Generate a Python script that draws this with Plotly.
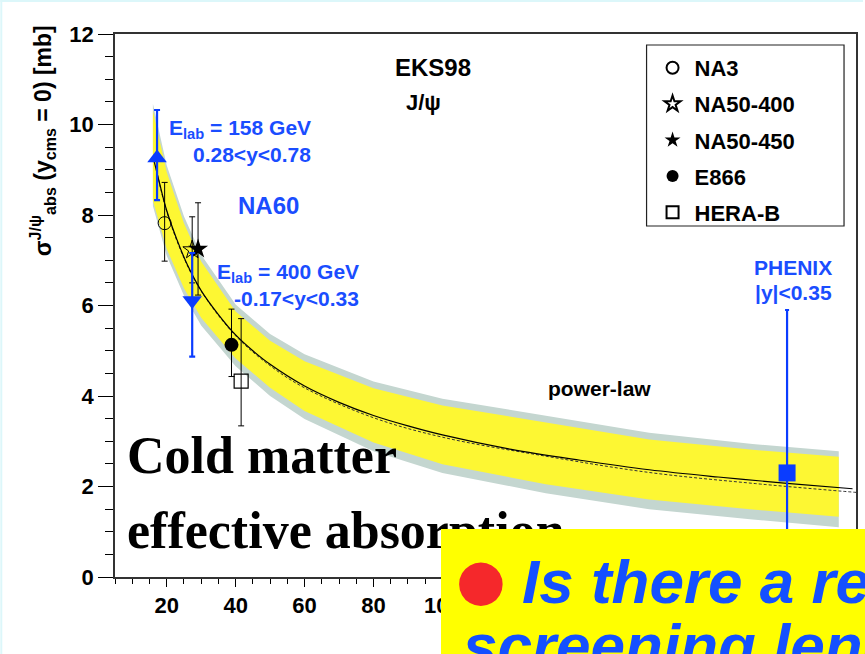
import plotly.graph_objects as go

# ---------------- data ----------------
# NA60 (p-A at SPS), sqrt(s) in GeV
na60_x = [17.2, 27.4]
na60_y = [9.26, 6.11]
na60_err_hi = [1.06, 1.05]
na60_err_lo = [0.93, 1.24]
na60_symbols = ["triangle-up", "triangle-down"]

na3_x = [19.4]
na3_y = [7.82]
na3_err_hi = [0.90]
na3_err_lo = [0.84]

na50_400_x = [27.4]
na50_400_y = [7.23]
na50_400_err = [0.73]

na50_450_x = [29.1]
na50_450_y = [7.25]
na50_450_err = [1.02]

e866_x = [38.8]
e866_y = [5.13]
e866_err_hi = [0.79]
e866_err_lo = [0.70]

herab_x = [41.6]
herab_y = [4.33]
herab_err_hi = [1.38]
herab_err_lo = [0.99]

phenix_x = [200.0]
phenix_y = [2.30]
phenix_err = [3.60]

# EKS98 power-law fit and its uncertainty bands
fit_x = [16, 18, 20, 23, 26, 30, 35, 40, 45, 50, 60, 70, 80, 90, 100, 120, 140, 160, 180, 200, 219]
fit_y = [9.30, 8.68, 8.10, 7.45, 6.90, 6.33, 5.80, 5.35, 5.00, 4.70, 4.22, 3.86, 3.57, 3.34, 3.14,
         2.82, 2.58, 2.37, 2.21, 2.07, 1.95]

alt_x = [17, 20, 25, 30, 40, 50, 60, 80, 100, 130, 160, 190, 220]
alt_y = [9.00, 8.08, 7.05, 6.32, 5.33, 4.67, 4.18, 3.52, 3.09, 2.67, 2.31, 2.07, 1.87]

band_x = [16, 20, 25, 30, 40, 50, 60, 80, 100, 130, 160, 190, 215]
yellow_hi = [10.30, 8.95, 7.82, 6.97, 5.87, 5.22, 4.77, 4.17, 3.79, 3.41, 3.04, 2.81, 2.66]
yellow_lo = [8.32, 7.25, 6.38, 5.73, 4.83, 4.18, 3.67, 2.97, 2.49, 2.05, 1.71, 1.49, 1.33]
grey_hi = [10.46, 9.10, 7.97, 7.12, 6.02, 5.37, 4.92, 4.32, 3.94, 3.56, 3.19, 2.94, 2.78]
grey_lo = [8.20, 7.10, 6.22, 5.56, 4.66, 4.00, 3.49, 2.78, 2.30, 1.85, 1.50, 1.27, 1.10]

x_range = [5, 220]
y_range = [0, 12]

# ---------------- page geometry ----------------
W, H = 865, 654
L, R, T, B = 115, 7, 34, 77
PW, PH = W - L - R, H - T - B


def px(xp):
    return (xp - L) / PW


def py(yp):
    return (H - B - yp) / PH


SANS = "Liberation Sans, Arial, sans-serif"
SERIF = "Liberation Serif, Times New Roman, serif"
BLUE = "#1a4dff"
MARK_BLUE = "#0a3cff"

fig = go.Figure()

# uncertainty bands
fig.add_trace(go.Scatter(
    x=band_x + band_x[::-1], y=grey_hi + grey_lo[::-1], fill="toself",
    fillcolor="#c4d6d0", line=dict(width=0), mode="lines", showlegend=False, hoverinfo="skip"))
fig.add_trace(go.Scatter(
    x=band_x + band_x[::-1], y=yellow_hi + yellow_lo[::-1], fill="toself",
    fillcolor="#fdf733", line=dict(width=0), mode="lines", showlegend=False, hoverinfo="skip"))

# fit curves
fig.add_trace(go.Scatter(x=alt_x, y=alt_y, mode="lines", line=dict(color="#333", width=1, dash="3px,2px"),
                         showlegend=False, line_shape="spline"))
fig.add_trace(go.Scatter(x=fit_x, y=fit_y, mode="lines", line=dict(color="black", width=1.2),
                         showlegend=False, line_shape="spline"))


def err(hi, lo=None, color="black", thick=1, width=3):
    d = dict(type="data", array=hi, color=color, thickness=thick, width=width, visible=True)
    if lo is not None:
        d.update(symmetric=False, arrayminus=lo)
    return d


fig.add_trace(go.Scatter(
    x=na3_x, y=na3_y, mode="markers", name="NA3", legendgroup="a",
    marker=dict(symbol="circle-open", size=13, color="black", line=dict(width=1)),
    error_y=err(na3_err_hi, na3_err_lo)))
fig.add_trace(go.Scatter(
    x=na50_400_x, y=na50_400_y, mode="markers", name="NA50-400", legendgroup="b",
    marker=dict(symbol="star-open", size=14, color="black", line=dict(width=1)),
    error_y=err(na50_400_err)))
fig.add_trace(go.Scatter(
    x=na50_450_x, y=na50_450_y, mode="markers", name="NA50-450", legendgroup="c",
    marker=dict(symbol="star", size=15, color="black"),
    error_y=err(na50_450_err)))
fig.add_trace(go.Scatter(
    x=e866_x, y=e866_y, mode="markers", name="E866", legendgroup="d",
    marker=dict(symbol="circle", size=14, color="black"),
    error_y=err(e866_err_hi, e866_err_lo)))
fig.add_trace(go.Scatter(
    x=herab_x, y=herab_y, mode="markers", name="HERA-B", legendgroup="e",
    marker=dict(symbol="square-open", size=14, color="black", line=dict(width=1.2)),
    error_y=err(herab_err_hi, herab_err_lo)))

fig.add_trace(go.Scatter(
    x=na60_x, y=na60_y, mode="markers", showlegend=False,
    marker=dict(symbol=na60_symbols, size=17, color=MARK_BLUE),
    error_y=err(na60_err_hi, na60_err_lo, color=MARK_BLUE, thick=2.2, width=3)))
fig.add_trace(go.Scatter(
    x=phenix_x, y=phenix_y, mode="markers", showlegend=False,
    marker=dict(symbol="square", size=17, color=MARK_BLUE),
    error_y=err(phenix_err, color=MARK_BLUE, thick=2.2, width=2)))

axis_common = dict(showline=True, linecolor="#333", linewidth=1.8, mirror=True, showgrid=False,
                   zeroline=False, ticks="outside", tickcolor="black", tickwidth=1.2,
                   tickfont=dict(family=SANS, size=22, color="black", weight="bold"))

fig.update_xaxes(range=x_range, dtick=20, tick0=0, ticklen=8,
                 minor=dict(dtick=5, tick0=0, ticklen=5, ticks="outside", tickcolor="black", tickwidth=1.2),
                 **axis_common)
fig.update_yaxes(range=y_range, dtick=2, tick0=0, ticklen=15,
                 minor=dict(dtick=0.5, tick0=0, ticklen=8, ticks="outside", tickcolor="black", tickwidth=1.2),
                 **axis_common)

ann = []


def text(x, y, s, size, color="black", xa="left", ya="middle", family=SANS, bold=True, italic=False, angle=0):
    ann.append(dict(x=px(x), y=py(y), xref="paper", yref="paper", text=s, showarrow=False,
                    xanchor=xa, yanchor=ya, textangle=angle,
                    font=dict(family=family, size=size, color=color,
                              weight="bold" if bold else "normal",
                              style="italic" if italic else "normal")))


text(42, 141, "σ<sup>J/ψ</sup><sub>abs</sub> (y<sub>cms</sub> = 0) [mb]", 23, xa="center", angle=-90)
text(434, 68, "EKS98", 24, xa="center")
text(424, 102, "J/ψ", 22, xa="center")
text(314, 129, "E<sub>lab</sub> = 158 GeV", 21, color=BLUE, xa="right")
text(314, 154, "0.28&lt;y&lt;0.78", 21, color=BLUE, xa="right")
text(236, 206, "NA60", 24, color=BLUE)
text(362, 273, "E<sub>lab</sub> = 400 GeV", 21, color=BLUE, xa="right")
text(362, 298, "-0.17&lt;y&lt;0.33", 21, color=BLUE, xa="right")
text(547, 388, "power-law", 21)
text(795, 267, "PHENIX", 21, color=BLUE, xa="center")
text(795, 292, "|y|&lt;0.35", 21, color=BLUE, xa="center")

text(125, 455, "Cold matter", 52, family=SERIF)
text(125, 530, "effective absorption", 52, family=SERIF)

# slide call-out box drawn over the lower right corner
ann.append(dict(x=px(442), y=py(529), xref="paper", yref="paper", xanchor="left", yanchor="top",
                text=" ", showarrow=False, width=440, height=140, bgcolor="#ffff00", borderwidth=0,
                borderpad=0))
text(482, 579, "●", 57, color="#f5282b", xa="center", bold=False, family="DejaVu Sans")
text(521, 581, "Is there a real", 62, color="#1450ff", italic=True)
text(462, 645, "screening length?", 62, color="#1450ff", italic=True)

fig.update_layout(
    width=W, height=H, margin=dict(l=L, r=R, t=T, b=B),
    paper_bgcolor="white", plot_bgcolor="white",
    annotations=ann,
    shapes=[
        dict(type="rect", xref="paper", yref="paper", x0=px(0), x1=px(W), y0=py(0), y1=py(2),
             fillcolor="#dcf7fa", line=dict(width=0)),
        dict(type="rect", xref="paper", yref="paper", x0=px(0), x1=px(2), y0=py(0), y1=py(H),
             fillcolor="#dcf7fa", line=dict(width=0)),
        # legend frame
        dict(type="rect", xref="paper", yref="paper", x0=px(648), x1=px(846), y0=py(45), y1=py(226),
             fillcolor="white", line=dict(color="#222", width=1.2), layer="above"),
    ],
    legend=dict(x=px(652), y=py(47), xanchor="left", yanchor="top", bgcolor="rgba(0,0,0,0)",
                borderwidth=0, itemsizing="constant", itemwidth=34, tracegroupgap=4.5,
                font=dict(family=SANS, size=22, color="black", weight="bold")),
)

fig.write_html("out.html")
